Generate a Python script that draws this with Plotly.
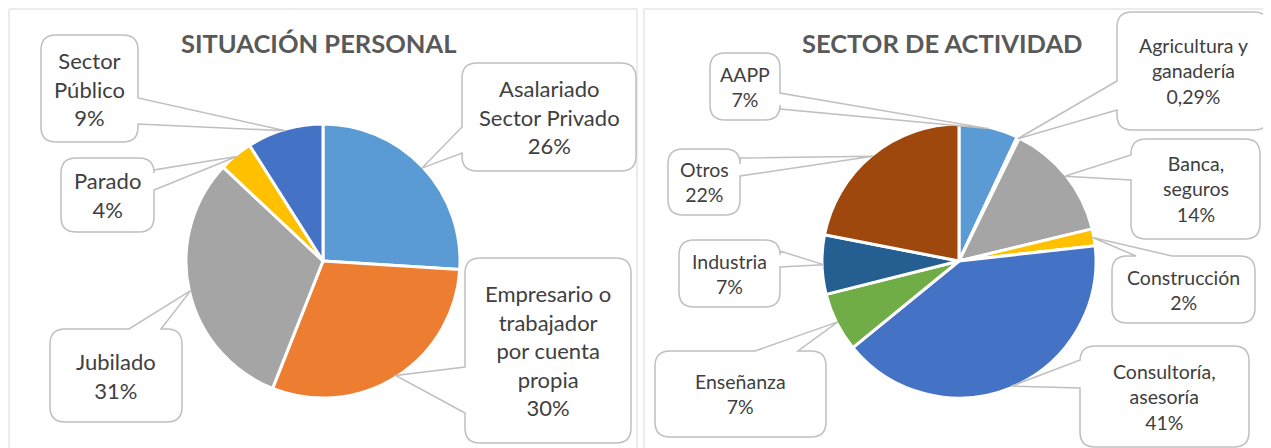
import math
import plotly.graph_objects as go

W, H = 1271, 448
OFF = 8  # page body margin of the rendered html
FW, FH = W - OFF, H - OFF

# ---------------- data ----------------
sp_title = "SITUACIÓN PERSONAL"
sp_labels = ["Asalariado Sector Privado", "Empresario o trabajador por cuenta propia",
             "Jubilado", "Parado", "Sector Público"]
sp_values = [26, 30, 31, 4, 9]
sp_text = ["Asalariado<br>Sector Privado<br>26%",
           "Empresario o<br>trabajador<br>por cuenta<br>propia<br>30%",
           "Jubilado<br>31%", "Parado<br>4%", "Sector<br>Público<br>9%"]

sa_title = "SECTOR DE ACTIVIDAD"
sa_labels = ["AAPP", "Agricultura y ganadería", "Banca, seguros", "Construcción",
             "Consultoría, asesoría", "Enseñanza", "Industria", "Otros"]
sa_values = [7, 0.29, 14, 2, 41, 7, 7, 22]
sa_text = ["AAPP<br>7%", "Agricultura y<br>ganadería<br>0,29%", "Banca,<br>seguros<br>14%",
           "Construcción<br>2%", "Consultoría,<br>asesoría<br>41%", "Enseñanza<br>7%",
           "Industria<br>7%", "Otros<br>22%"]

# ---------------- styles / layout ----------------
sp_colors = ["#5B9BD5", "#ED7D31", "#A5A5A5", "#FFC000", "#4472C4"]
sa_colors = ["#5B9BD5", "#ED7D31", "#A5A5A5", "#FFC000", "#4472C4", "#70AD47", "#255E91", "#9E480E"]

sp_geom = dict(cx=323, cy=261, r=137, title_xy=(318, 43), font_size=22)
sa_geom = dict(cx=959, cy=261, r=137, title_xy=(942, 43), font_size=19.5)

# callout boxes: (x0, y0, x1, y1), side of pointer, pointer base start/end
sp_boxes = [
    ((462, 63, 636, 171), "left", 127, 153),
    ((465, 258, 631, 443), "left", 367, 413),
    ((50, 329, 182, 422), "top", 129, 161),
    ((61, 158, 154, 232), "right", 170, 190),
    ((41, 35, 138, 142), "right", 98, 124),
]
sa_boxes = [
    ((710, 53, 780, 120), "right", 93, 109),
    ((1117, 12, 1269, 130), "left", 81, 110),
    ((1131, 139, 1260, 239), "left", 155, 180),
    ((1112, 256, 1255, 323), "top", 1136, 1172),
    ((1080, 346, 1249, 447), "left", 360, 388),
    ((655, 351, 826, 437), "top", 755, 798),
    ((679, 240, 780, 307), "right", 251, 267),
    ((668, 149, 740, 215), "right", 158, 176),
]

FONT_FAMILY = "Lato, Carlito, sans-serif"
TITLE_FONT = dict(family=FONT_FAMILY, size=25.5, color="#595959")
LABEL_COLOR = "#404040"
BOX_LINE = "#BFBFBF"


def callout_path(box, side, b1, b2, tip, r=15):
    x0, y0, x1, y1 = box
    tx, ty = tip
    p = [f"M{x0 + r},{y0}"]
    if side == "top":
        p += [f"L{b1},{y0}", f"L{tx},{ty}", f"L{b2},{y0}"]
    p += [f"L{x1 - r},{y0}", f"Q{x1},{y0} {x1},{y0 + r}"]
    if side == "right":
        p += [f"L{x1},{b1}", f"L{tx},{ty}", f"L{x1},{b2}"]
    p += [f"L{x1},{y1 - r}", f"Q{x1},{y1} {x1 - r},{y1}"]
    if side == "bottom":
        p += [f"L{b2},{y1}", f"L{tx},{ty}", f"L{b1},{y1}"]
    p += [f"L{x0 + r},{y1}", f"Q{x0},{y1} {x0},{y1 - r}"]
    if side == "left":
        p += [f"L{x0},{b2}", f"L{tx},{ty}", f"L{x0},{b1}"]
    p += [f"L{x0},{y0 + r}", f"Q{x0},{y0} {x0 + r},{y0}", "Z"]
    return " ".join(p)


def mid_points(values, geom):
    total = sum(values)
    out, cum = [], 0.0
    for v in values:
        a = 2 * math.pi * (cum + v / 2) / total
        cum += v
        rr = geom["r"] * 0.99
        out.append((geom["cx"] + rr * math.sin(a), geom["cy"] - rr * math.cos(a)))
    return out


def domain(geom):
    cx, cy, r = geom["cx"], geom["cy"], geom["r"]
    return dict(x=[(cx - r - OFF) / FW, (cx + r - OFF) / FW],
                y=[1 - (cy + r - OFF) / FH, 1 - (cy - r - OFF) / FH])


fig = go.Figure()
# invisible helper trace to establish a pixel coordinate system
fig.add_trace(go.Scatter(x=[OFF, W], y=[OFF, H], mode="markers", marker=dict(opacity=0),
                         hoverinfo="skip", showlegend=False))

for labels, values, colors, geom in [(sp_labels, sp_values, sp_colors, sp_geom),
                                     (sa_labels, sa_values, sa_colors, sa_geom)]:
    fig.add_trace(go.Pie(labels=labels, values=values, sort=False, direction="clockwise",
                         rotation=0, textinfo="none", hoverinfo="label+percent",
                         marker=dict(colors=colors, line=dict(color="white", width=3)),
                         domain=domain(geom), showlegend=False))

shapes, annotations = [], []
# panel borders
shapes.append(dict(type="rect", xref="x", yref="y", x0=9, y0=9, x1=637, y1=470,
                   line=dict(color="#D9D9D9", width=1), fillcolor="rgba(0,0,0,0)", layer="below"))
shapes.append(dict(type="rect", xref="x", yref="y", x0=644, y0=9, x1=1290, y1=470,
                   line=dict(color="#D9D9D9", width=1), fillcolor="rgba(0,0,0,0)", layer="below"))

for values, texts, boxes, geom, title in [(sp_values, sp_text, sp_boxes, sp_geom, sp_title),
                                          (sa_values, sa_text, sa_boxes, sa_geom, sa_title)]:
    tips = mid_points(values, geom)
    lf = dict(family=FONT_FAMILY, size=geom["font_size"], color=LABEL_COLOR)
    for txt, (box, side, b1, b2), tip in zip(texts, boxes, tips):
        shapes.append(dict(type="path", xref="x", yref="y",
                           path=callout_path(box, side, b1, b2, tip),
                           fillcolor="white", line=dict(color=BOX_LINE, width=1.5), layer="above"))
        annotations.append(dict(x=(box[0] + box[2]) / 2, y=(box[1] + box[3]) / 2, xref="x", yref="y",
                                text=txt, showarrow=False, font=lf, align="center",
                                xanchor="center", yanchor="middle"))
    annotations.append(dict(x=geom["title_xy"][0], y=geom["title_xy"][1], xref="x", yref="y",
                            text=f"<b>{title}</b>", showarrow=False, font=TITLE_FONT,
                            xanchor="center", yanchor="middle"))

fig.update_layout(
    width=FW, height=FH, margin=dict(l=0, r=0, t=0, b=0),
    paper_bgcolor="white", plot_bgcolor="white",
    xaxis=dict(range=[OFF, W], visible=False, fixedrange=True),
    yaxis=dict(range=[H, OFF], visible=False, fixedrange=True),
    shapes=shapes, annotations=annotations, showlegend=False,
)

fig.write_html("out.html")
